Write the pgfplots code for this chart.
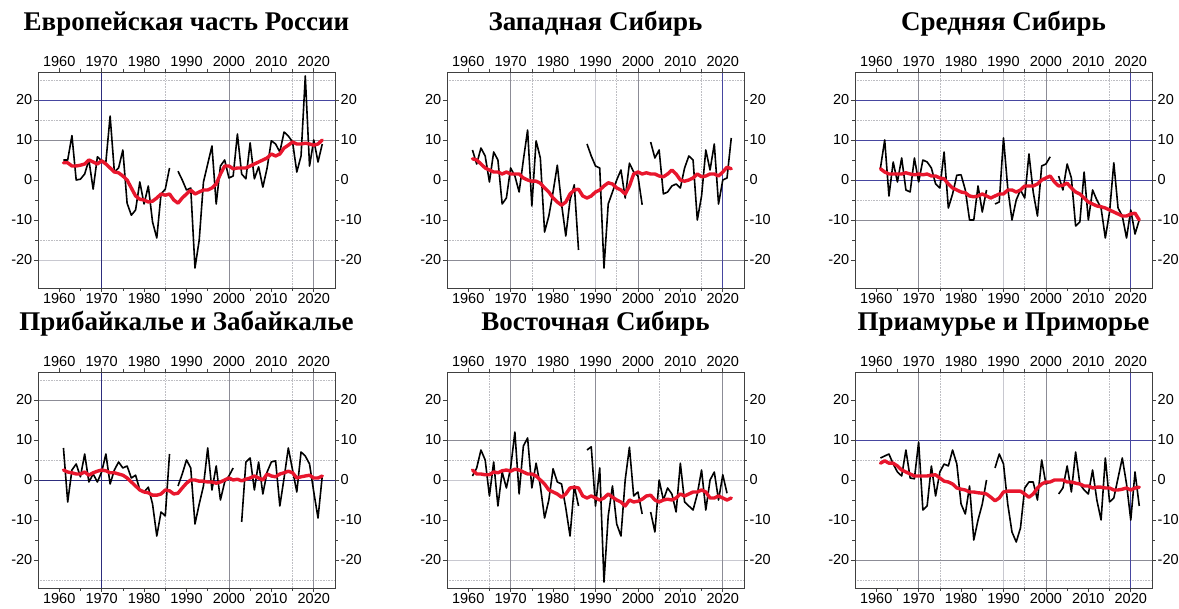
\documentclass[border=0pt]{standalone}
\usepackage{fontspec}
\setmainfont{Liberation Sans}
\newfontfamily\tfont{Liberation Serif}
\usepackage{pgfplots}
\usepackage{pgfplotstable}
\pgfplotsset{compat=1.18}

\definecolor{gblue}{RGB}{70,70,160}
\definecolor{gnavy}{RGB}{45,45,125}
\definecolor{ggray}{RGB}{140,140,150}
\definecolor{glight}{RGB}{200,200,208}
\definecolor{dotc}{RGB}{190,190,195}
\definecolor{redl}{RGB}{232,22,45}

\pgfplotsset{
  base/.style={
    scale only axis, width=297pt, height=216pt,
    xmin=1955, xmax=2025, ymin=-27, ymax=27,
    xtick={1960,1970,...,2020}, ytick={-20,-10,...,20},
    minor x tick num=1, minor y tick num=1,
    tick align=outside,
    major tick length=4pt, minor tick length=3pt,
    axis line style={black!75, line width=0.7pt},
    tick style={black!75, line width=0.6pt},
    ticklabel style={font=\fontsize{14.5}{15}\selectfont},
    /pgf/number format/1000 sep={},
    /pgf/number format/assume math mode=true,
    xticklabel style={inner sep=1.5pt},
    yticklabel style={inner sep=1.5pt},
  },
  blackline/.style={black, line width=1.6pt, line join=round, unbounded coords=jump},
  redline/.style={redl, line width=3.4pt, line join=round, line cap=round},
}
\newcommand\vg[2]{\draw[#1] (axis cs:#2,-27) -- (axis cs:#2,27);}
\newcommand\hg[2]{\draw[#1] (axis cs:1955,#2) -- (axis cs:2025,#2);}
\tikzset{sol/.style={line width=0.8pt}, dt/.style={dotc, densely dotted, line width=0.6pt}}

\newcommand{\panel}[5]{%
  \begin{axis}[base, at={(#1,#2)}, anchor=south west,
      title={\tfont\bfseries #3},
      title style={at={(0.5,1)}, anchor=base, yshift=35pt, inner sep=0pt,
        font=\fontsize{27}{30}\selectfont}]
    #5
    \addplot[blackline] table[x=year,y=b]{#4};
    \addplot[redline] table[x=year,y=r]{#4};
  \end{axis}
  \begin{axis}[base, at={(#1,#2)}, anchor=south west,
      xticklabel pos=upper, yticklabel pos=right]
    \addplot[draw=none] coordinates {(1960,0)};
  \end{axis}
}

% year, black (observed), red (smoothed)
\pgfplotstableread{
year b r
1961 5 4.3
1962 5 4.3
1963 11.1 3.5
1964 0 3.5
1965 0.2 3.7
1966 1.5 4
1967 5 5
1968 -2.3 4.5
1969 5.8 4
1970 4.8 4.8
1971 4.5 4
1972 16 3
1973 2 2
1974 3 1.8
1975 7.5 1
1976 -5.8 0
1977 -8.8 -2
1978 -7.5 -4
1979 -0.5 -4.8
1980 -6 -5
1981 -1.5 -5.5
1982 -10.5 -5.3
1983 -14.5 -4.5
1984 -3.5 -3.5
1985 -2.3 -3.8
1986 3 -3.5
1987 nan -5
1988 2.2 -5.8
1989 0 -4.5
1990 -2.5 -3.5
1991 -2 -2.5
1992 -22 -3.5
1993 -15 -3
1994 -0.5 -2.5
1995 4 -2.5
1996 8.5 -2
1997 -6 -1
1998 3.5 1.5
1999 5 3.5
2000 0.5 3.5
2001 1 2.8
2002 11.5 3
2003 1.5 3
2004 0.3 3
2005 9.3 3.5
2006 0.3 4
2007 3.3 4.5
2008 -1.8 5
2009 3 5.5
2010 9.8 6.5
2011 9 6
2012 7 6.5
2013 12 8
2014 11 8.7
2015 9.5 9.5
2016 2 9
2017 6 9
2018 26 9.2
2019 3.5 9
2020 10 8.7
2021 4.5 9
2022 9 10
}\tA

\pgfplotstableread{
year b r
1961 7.5 5.3
1962 4 5
1963 8 4
1964 6 3
1965 -0.5 2.5
1966 7 2
1967 5 2
1968 -6 1.5
1969 -4.5 2
1970 3 1.5
1971 1 1.5
1972 -3 1.5
1973 5 0.5
1974 12.5 0
1975 -6.5 -0.3
1976 9.8 -0.3
1977 5.5 -0.8
1978 -13 -2
1979 -9 -3
1980 -3 -4.5
1981 3.7 -5.5
1982 -6 -6.3
1983 -14 -5.5
1984 -5 -3.5
1985 -1.2 -2.5
1986 -17.5 -2.3
1987 nan -4
1988 9 -4.5
1989 6 -4
1990 3.5 -3
1991 3 -2.5
1992 -22 -1.5
1993 -6 -0.7
1994 -3 -1
1995 0 -2
1996 2.5 -2.5
1997 -4.5 -3.5
1998 4.2 -1.5
1999 2 1.5
2000 1 2
2001 -6.2 1.5
2002 nan 1.8
2003 9.5 1.5
2004 5.5 1.5
2005 7.5 1
2006 -3.5 0.8
2007 -3 1.5
2008 -1.5 2.5
2009 -1 1.5
2010 -2 0
2011 3 -0.3
2012 6 0
2013 5 0.5
2014 -10 1.5
2015 -4 0.8
2016 7.5 1
2017 2.5 1.5
2018 9 1.5
2019 -6 1
2020 0 2
2021 0.5 3.2
2022 10.5 2.8
}\tB

\pgfplotstableread{
year b r
1961 3 2.8
1962 10 2
1963 -4 1.5
1964 4.5 1.5
1965 -0.5 1.5
1966 5.5 1.5
1967 -2.5 1.8
1968 -3 1.5
1969 5.5 1.3
1970 -0.5 1.5
1971 5 1.3
1972 4.5 1.5
1973 3 1
1974 -1 1
1975 -2 0.5
1976 7 0.3
1977 -7 -1
1978 -3.5 -2
1979 1.2 -2.5
1980 1.3 -3
1981 -2.5 -3.2
1982 -10 -4
1983 -10 -4.2
1984 -1.5 -4
1985 -8 -3.5
1986 -2.5 -4
1987 nan -4.5
1988 -6 -4
1989 -5.5 -3.5
1990 10.5 -3.5
1991 -2 -2.5
1992 -10 -2.5
1993 -5 -3
1994 -2.5 -2.5
1995 -4.5 -1.5
1996 6.5 -1.5
1997 -3 -1.5
1998 -9 -1
1999 3.5 0
2000 4 0.5
2001 5.8 1
2002 nan -0.5
2003 1 -1.5
2004 -2.5 -1.3
2005 4 -0.8
2006 0.5 -2
2007 -11.5 -3
2008 -10.5 -3.5
2009 2 -4.5
2010 -10 -5.5
2011 -2.5 -6
2012 -5 -6.5
2013 -7 -6.7
2014 -14.5 -7
2015 -8 -7.5
2016 4.3 -8
2017 -7 -8.5
2018 -9 -9
2019 -14.5 -9
2020 -7.5 -8.5
2021 -13.5 -8.3
2022 -10 -10
}\tC

\pgfplotstableread{
year b r
1961 8 2.5
1962 -5.5 2
1963 2.5 1.8
1964 4 1.5
1965 0.8 1.5
1966 6.5 2
1967 -0.5 1.2
1968 1.5 1.8
1969 -0.5 2.2
1970 2 2.5
1971 6.5 2.3
1972 -1 1.8
1973 2.5 1.8
1974 4.5 1.5
1975 3 1.2
1976 3.5 0.5
1977 0.5 -0.5
1978 1.2 -1.5
1979 -2.5 -2.5
1980 -3 -3
1981 -1.8 -3.2
1982 -6 -3.8
1983 -14 -3.8
1984 -8 -3.5
1985 -9 -2.5
1986 6.5 -2.7
1987 nan -3.5
1988 -1.5 -3.3
1989 1.5 -2
1990 5 -0.8
1991 3 0
1992 -11 0
1993 -6 -0.3
1994 -1.5 -0.3
1995 8 -0.5
1996 -2.5 -0.5
1997 3.5 -0.8
1998 -5 -0.5
1999 -0.5 0
2000 1 0.5
2001 3 0
2002 nan 0.2
2003 -10.5 -0.2
2004 4.5 0.2
2005 5.5 0.5
2006 -2.5 1
2007 4.5 0.5
2008 -3.5 0
2009 2 1.5
2010 4.5 1
2011 4.8 0.8
2012 -6.5 1.5
2013 0.5 1.8
2014 8 2.2
2015 2.5 1.8
2016 -3 0.5
2017 7 0.8
2018 6 1
2019 4 1.2
2020 -3 0.5
2021 -9.5 0.5
2022 1 1
}\tD

\pgfplotstableread{
year b r
1961 1 2.5
1962 3 1.5
1963 7.5 1.5
1964 5 1.3
1965 -4 1.3
1966 4.5 2
1967 -6.5 1.8
1968 2 2.3
1969 -2 2.5
1970 3 2.2
1971 12 2.7
1972 -3.5 2.5
1973 8.5 2
1974 10.5 1.5
1975 -2 1.5
1976 4.2 1
1977 -1.5 0
1978 -9.5 -1
1979 -5 -2.5
1980 2.8 -3
1981 -0.5 -3.5
1982 -1 -4.3
1983 -7 -3.5
1984 -14 -2
1985 -1.5 -1.8
1986 -6.5 -2
1987 nan -4
1988 7.5 -4.5
1989 8.3 -4
1990 -6.5 -4.5
1991 3 -5
1992 -25.5 -4.5
1993 -9 -3.5
1994 -1.5 -4.3
1995 -11 -5
1996 -14 -5.5
1997 0 -6.5
1998 8.2 -5
1999 -4 -5.5
2000 -3 -5.3
2001 -8.5 -4.8
2002 nan -4
2003 -8 -3.8
2004 -13 -5
2005 0 -5.5
2006 -5 -5
2007 -2 -4.8
2008 -3.5 -5
2009 -8 -4.5
2010 4.2 -3.5
2011 -5.5 -4
2012 -6.5 -3.5
2013 -7.5 -3
2014 -3.5 -3
2015 2.5 -2.5
2016 -7.5 -3
2017 0 -4.5
2018 2 -4.5
2019 -5 -4
2020 1.3 -4.5
2021 -3.3 -5
2022 nan -4.5
}\tE

\pgfplotstableread{
year b r
1961 5.5 4.2
1962 6 4.8
1963 6.5 4.2
1964 4 4.2
1965 2 3.5
1966 1 2.5
1967 7.5 2
1968 0.5 1.5
1969 0.3 1
1970 9.5 1
1971 -7.5 1
1972 -6.5 1
1973 3.5 1.2
1974 -4 1.3
1975 2 0.5
1976 4 -0.3
1977 3.5 -0.5
1978 7.5 -1
1979 4 -2
1980 -6 -2.3
1981 -8.5 -2.5
1982 -1.5 -3
1983 -15 -3
1984 -10 -3.2
1985 -6 -3.3
1986 0 -3.5
1987 nan -4.3
1988 3 -5.2
1989 6.5 -4.5
1990 4 -3
1991 -6 -2.8
1992 -13 -2.8
1993 -15.5 -2.8
1994 -12 -2.8
1995 -2 -3.5
1996 -0.5 -4.3
1997 -0.5 -3.5
1998 -5 -2
1999 5 -1
2000 -1 -0.5
2001 -0.5 -0.5
2002 nan 0
2003 -3.5 0
2004 -2 0
2005 3.5 -0.5
2006 -3 -0.5
2007 7 -0.8
2008 -1 -1
2009 -2.5 -1.5
2010 -3.5 -1.5
2011 2.5 -2
2012 -5 -1.8
2013 -10 -1.8
2014 5.5 -2
2015 -5.5 -2
2016 -4.5 -2.5
2017 0.5 -2.5
2018 5.5 -2.3
2019 -1 -2
2020 -10 -2.5
2021 2 -2
2022 -6.5 -1.8
}\tF

\begin{document}
\begin{tikzpicture}
\useasboundingbox (0,0) rectangle (1179pt,609pt);

\panel{38pt}{321pt}{Европейская часть России}{\tA}{%
  \hg{dt}{25}\hg{dt}{15}\hg{dt}{-15}\vg{dt}{1985}\vg{dt}{2015}
  \hg{gblue,sol}{20}\hg{ggray,sol}{10}\hg{glight,sol}{-20}
  \vg{gnavy,sol}{1970}\vg{ggray,sol}{2000}\vg{ggray,sol}{2020}}

\panel{447pt}{321pt}{Западная Сибирь}{\tB}{%
  \hg{dt}{25}\hg{dt}{-15}\vg{dt}{1975}\vg{dt}{1995}\vg{dt}{2015}
  \hg{ggray,sol}{-20}
  \vg{ggray,sol}{1970}\vg{glight,sol}{1990}\vg{ggray,sol}{2000}\vg{gblue,sol}{2020}}

\panel{855pt}{321pt}{Средняя Сибирь}{\tC}{%
  \hg{dt}{25}\hg{dt}{15}\hg{dt}{-5}\vg{dt}{1975}\vg{dt}{1995}\vg{dt}{2015}
  \hg{gblue,sol}{20}\hg{gblue,sol}{10}\hg{gblue,sol}{0}\hg{ggray,sol}{-10}
  \vg{ggray,sol}{1970}\vg{glight,sol}{1990}\vg{ggray,sol}{2000}\vg{gblue,sol}{2020}}

\panel{38pt}{21pt}{Прибайкалье и Забайкалье}{\tD}{%
  \hg{dt}{25}\hg{dt}{5}\hg{dt}{-25}\vg{dt}{1985}\vg{dt}{2015}
  \hg{ggray,sol}{20}\hg{gnavy,sol}{0}
  \vg{gnavy,sol}{1970}\vg{ggray,sol}{2000}\vg{ggray,sol}{2020}}

\panel{447pt}{21pt}{Восточная Сибирь}{\tE}{%
  \hg{dt}{5}\hg{dt}{-25}\vg{dt}{1965}\vg{dt}{1985}\vg{dt}{2005}
  \hg{ggray,sol}{10}\hg{glight,sol}{0}\hg{glight,sol}{-20}
  \vg{ggray,sol}{1970}\vg{ggray,sol}{1990}\vg{ggray,sol}{2020}}

\panel{855pt}{21pt}{Приамурье и Приморье}{\tF}{%
  \hg{dt}{5}\hg{dt}{-25}\vg{dt}{1975}\vg{dt}{1995}\vg{dt}{2015}
  \hg{gblue,sol}{10}\hg{ggray,sol}{-20}
  \vg{ggray,sol}{1970}\vg{glight,sol}{1990}\vg{ggray,sol}{2000}\vg{gblue,sol}{2020}}

\end{tikzpicture}
\end{document}
